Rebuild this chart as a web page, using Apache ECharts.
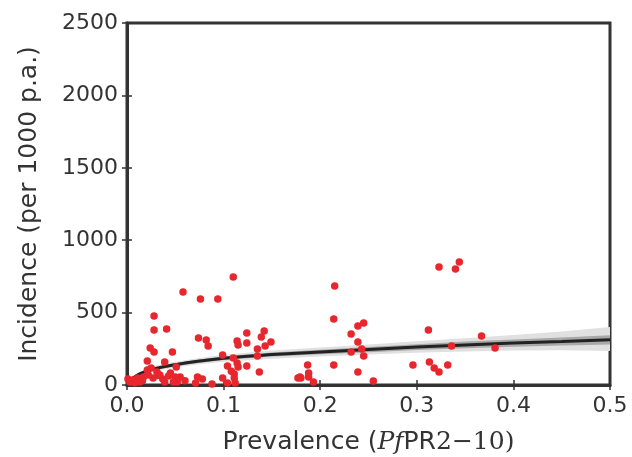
<!DOCTYPE html>
<html>
<head>
<meta charset="utf-8">
<script src="https://cdn.jsdelivr.net/npm/echarts@6/dist/echarts.min.js"></script>
<style>
  html, body { margin: 0; padding: 0; background: #fff; }
  #main { width: 632px; height: 457px; }
</style>
</head>
<body>
<div id="main"></div>
<script>
// observed points [prevalence, incidence]
var points = [
  [0.110,746],[0.058,642],[0.076,594],[0.094,594],[0.028,476],[0.028,380],[0.041,387],
  [0.074,325],[0.082,311],[0.084,269],[0.114,304],[0.115,276],[0.124,359],[0.124,290],
  [0.142,373],[0.139,331],[0.149,297],[0.143,269],[0.135,249],[0.135,200],[0.124,131],
  [0.137,90],[0.024,256],[0.028,228],[0.047,228],[0.021,166],[0.039,159],[0.099,207],
  [0.110,186],[0.104,131],[0.114,152],[0.115,124],[0.111,76],[0.111,48],[0.051,124],
  [0.001,41],[0.006,34],[0.011,48],[0.017,55],[0.021,104],[0.025,117],[0.022,69],
  [0.031,90],[0.034,69],[0.037,41],[0.045,83],[0.050,55],[0.052,21],[0.055,55],
  [0.073,55],[0.078,41],[0.088,7],[0.099,48],[0.104,14],[0.112,14],[0.003,21],
  [0.013,21],[0.027,48],[0.039,21],[0.048,21],[0.071,14],
  [0.032,65],[0.043,62],[0.016,30],[0.008,15],[0.060,30],[0.108,95],
  [0.215,684],[0.214,456],[0.239,407],[0.245,428],[0.232,352],[0.239,297],[0.243,249],
  [0.232,228],[0.245,200],[0.214,138],[0.239,90],[0.255,28],[0.187,138],[0.179,55],
  [0.180,48],[0.188,83],[0.188,55],[0.193,21],[0.177,48],
  [0.323,815],[0.340,801],[0.344,849],[0.312,380],[0.336,269],[0.367,338],[0.296,138],
  [0.313,159],[0.318,117],[0.323,90],[0.332,138],[0.381,256]
];

// fitted curve and uncertainty bands
var curveX    = [0, 0.01, 0.02, 0.03, 0.05, 0.075, 0.1, 0.15, 0.2, 0.25, 0.3, 0.35, 0.4, 0.45, 0.5];
var curveY    = [15, 65, 95, 115, 140, 165, 185, 210, 228, 245, 262, 277, 290, 300, 312];
var darkLow   = [10, 58, 87, 106, 130, 154, 173, 196, 212, 227, 242, 254, 265, 272, 280];
var darkHigh  = [20, 72, 103, 124, 150, 176, 197, 224, 244, 263, 282, 300, 315, 328, 344];
var lightLow  = [5, 50, 78, 96, 120, 143, 161, 182, 197, 210, 222, 231, 238, 240, 235];
var lightHigh = [25, 80, 112, 134, 160, 187, 209, 238, 259, 280, 302, 323, 345, 370, 400];

var xTicks = [0, 0.1, 0.2, 0.3, 0.4, 0.5];
var yTicks = [0, 500, 1000, 1500, 2000, 2500];

function pairs(xs, ys) {
  return xs.map(function (x, i) { return [x, ys[i]]; });
}

// band polygon drawn through the chart's own coordinate system
function bandRenderer(lo, hi, color) {
  return function (params, api) {
    var pts = [];
    curveX.forEach(function (x, i) { pts.push(api.coord([x, hi[i]])); });
    for (var i = curveX.length - 1; i >= 0; i--) pts.push(api.coord([curveX[i], lo[i]]));
    return {
      type: 'polygon',
      shape: { points: pts },
      style: { fill: color, stroke: null }
    };
  };
}

var myChart = echarts.init(document.getElementById('main'));
var axisCol = '#333';

option = {
  animation: false,
  grid: {
    left: 127, right: 22, top: 23, bottom: 72, outerBoundsMode: 'none',
    show: true, borderColor: axisCol, borderWidth: 3
  },
  xAxis: [{
    type: 'value', min: 0, max: 0.5, interval: 0.1,
    name: '{a|Prevalence (}{b|Pf}{c|PR}{d|2−10)}',
    nameLocation: 'middle', nameGap: 45,
    nameTextStyle: {
      rich: {
        a: { fontFamily: 'DejaVu Sans', fontSize: 25, color: '#333' },
        b: { fontFamily: 'DejaVu Serif', fontStyle: 'italic', fontSize: 25, color: '#333' },
        c: { fontFamily: 'DejaVu Sans', fontSize: 25, color: '#333' },
        d: { fontFamily: 'DejaVu Serif', fontSize: 25, color: '#333' }
      }
    },
    axisLine: { show: true, lineStyle: { color: axisCol, width: 3 } },
    axisTick: { show: true, inside: true, length: 5, lineStyle: { color: axisCol, width: 1.5 } },
    axisLabel: {
      fontFamily: 'DejaVu Sans', fontSize: 22, color: '#333', margin: 10,
      formatter: function (v) { return v.toFixed(1); }
    },
    splitLine: { show: false }
  }, {
    type: 'value', min: 0, max: 0.5, interval: 0.1, position: 'top',
    axisLine: { show: false }, axisLabel: { show: false }, splitLine: { show: false },
    axisTick: { show: true, inside: true, length: 5, lineStyle: { color: axisCol, width: 1.5 } }
  }],
  yAxis: [{
    type: 'value', min: 0, max: 2500, interval: 500,
    name: 'Incidence (per 1000 p.a.)',
    nameLocation: 'middle', nameGap: 85,
    nameTextStyle: { fontFamily: 'DejaVu Sans', fontSize: 25, color: '#333' },
    axisLine: { show: true, lineStyle: { color: axisCol, width: 3 } },
    axisTick: { show: true, inside: true, length: 5, lineStyle: { color: axisCol, width: 1.5 } },
    axisLabel: {
      fontFamily: 'DejaVu Sans', fontSize: 22, color: '#333', margin: 9,
      formatter: function (v) { return String(v); }
    },
    splitLine: { show: false }
  }, {
    type: 'value', min: 0, max: 2500, interval: 500, position: 'right',
    axisLine: { show: false }, axisLabel: { show: false }, splitLine: { show: false },
    axisTick: { show: true, inside: true, length: 5, lineStyle: { color: axisCol, width: 1.5 } }
  }],
  series: [
    { type: 'custom', data: [[0, 0]], renderItem: bandRenderer(lightLow, lightHigh, '#e0e0e0'), z: 1, silent: true },
    { type: 'custom', data: [[0, 0]], renderItem: bandRenderer(darkLow, darkHigh, '#a8a8a8'), z: 2, silent: true },
    { type: 'line', data: pairs(curveX, curveY), symbol: 'none', smooth: true,
      lineStyle: { color: '#222', width: 3 }, z: 3 },
    { type: 'scatter', data: points, symbolSize: 7.5, itemStyle: { color: '#e8262d', opacity: 1 }, z: 4 }
  ]
};

myChart.setOption(option);
</script>
</body>
</html>
